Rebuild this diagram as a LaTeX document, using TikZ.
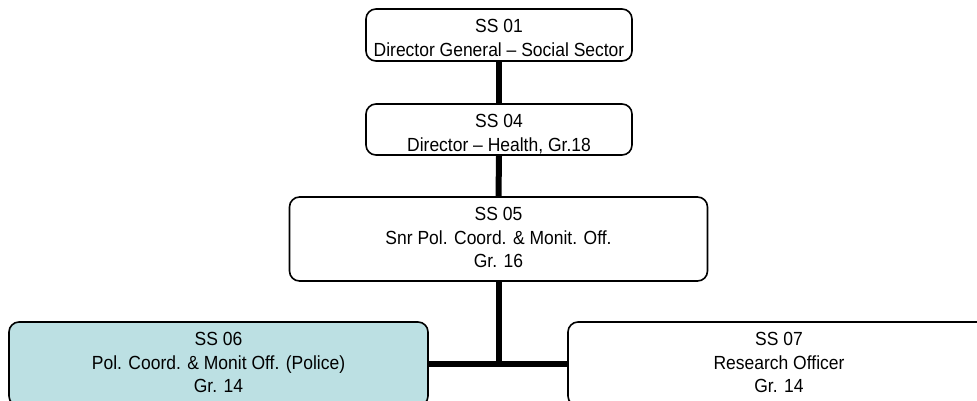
\documentclass[tikz,border=0pt]{standalone}
\usepackage{fontspec}
\setmainfont{Liberation Sans}[FakeStretch=0.92]
\definecolor{teal6}{RGB}{188,224,227}
\begin{document}
\begin{tikzpicture}[x=1pt,y=-1pt,
  box/.style={draw=black,line width=1.6pt,rounded corners=10pt,fill=white,inner sep=0pt},
  txt/.style={label={[anchor=north,align=center,inner sep=0pt,yshift=-10.5pt,font=\fontsize{19}{23.5}\selectfont]north:\rule{0pt}{14pt}#1}},
  conn/.style={line width=6pt,draw=black}]
\clip (0,0) rectangle (977,400);
\fill[white] (0,0) rectangle (977,400);
\node[box,minimum width=266pt,minimum height=52pt,txt={SS 01\\Director General -- Social Sector}] (b1) at (499,35) {};
\node[box,minimum width=266pt,minimum height=51pt,txt={SS 04\\Director -- Health, Gr.18}] (b2) at (499,129.5) {};
\node[box,minimum width=418pt,minimum height=84pt,txt={SS 05\\Snr Pol. Coord. \& Monit. Off.\\Gr. 16}] (b3) at (498.5,239) {};
\node[box,fill=teal6,minimum width=419pt,minimum height=84pt,txt={SS 06\\Pol. Coord. \& Monit Off. (Police)\\Gr. 14}] (b6) at (218.5,364) {};
\node[box,minimum width=422pt,minimum height=84pt,txt={SS 07\\Research Officer\\Gr. 14}] (b7) at (779,364) {};
\coordinate (j) at (b3.south |- b6.east);
\draw[conn] (b1.south) -- (b2.north);
\draw[conn] (b2.south) -- (b3.north);
\draw[conn] (b3.south) -- (j);
\draw[conn] (b6.east) -- (b7.west);
\end{tikzpicture}
\end{document}
